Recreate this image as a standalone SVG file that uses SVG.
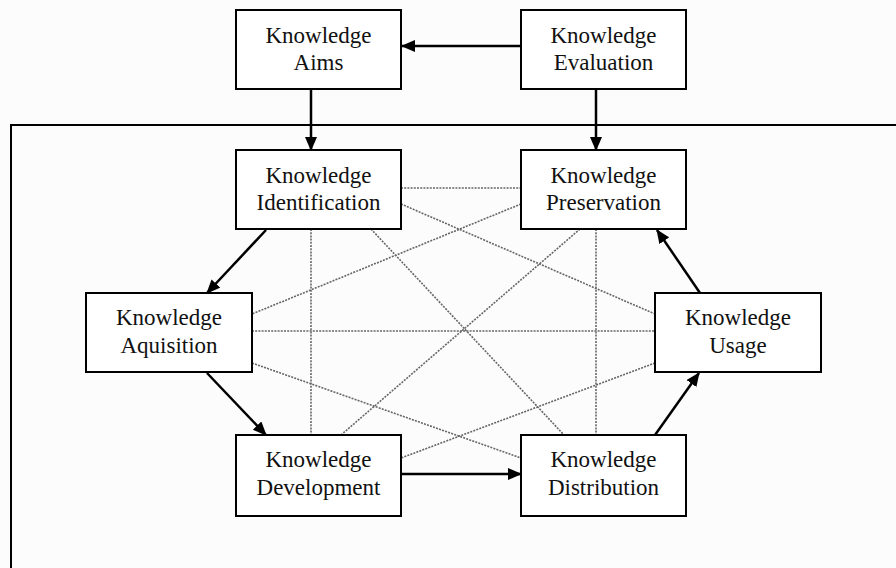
<svg xmlns="http://www.w3.org/2000/svg" width="896" height="568" viewBox="0 0 896 568">
<style>
.box{fill:#fff;stroke:#000;stroke-width:2}
.lbl{font-family:"Liberation Serif","Times New Roman",serif;font-size:23px;fill:#111;text-anchor:middle}
.arr{stroke:#000;stroke-width:2.5;fill:none;marker-end:url(#ah)}
.dot{stroke:#666;stroke-width:1.6;stroke-dasharray:2 1.2;fill:none}
.frame{fill:none;stroke:#000;stroke-width:2}
</style>
<defs>
<marker id="ah" markerUnits="userSpaceOnUse" markerWidth="14" markerHeight="12" refX="13" refY="6" orient="auto">
<path d="M0,0 L14,6 L0,12 z" fill="#000"/>
</marker>
</defs>
<rect width="896" height="568" fill="#fcfcfc"/>
<path class="frame" d="M897,125 H11 V570"/>
<g id="connectors">
<g id="dotted">
<line class="dot" x1="401" y1="188" x2="521" y2="188"/>
<line class="dot" x1="401" y1="204" x2="655" y2="314"/>
<line class="dot" x1="521" y1="204" x2="252" y2="314"/>
<line class="dot" x1="371" y1="229" x2="564" y2="435"/>
<line class="dot" x1="580" y1="229" x2="341" y2="435"/>
<line class="dot" x1="311" y1="229" x2="311" y2="435"/>
<line class="dot" x1="596" y1="229" x2="596" y2="435"/>
<line class="dot" x1="252" y1="331" x2="655" y2="331"/>
<line class="dot" x1="252" y1="363" x2="521" y2="458"/>
<line class="dot" x1="655" y1="363" x2="401" y2="458"/>
</g>
<line class="arr" x1="521" y1="46" x2="402" y2="46"/>
<line class="arr" x1="311" y1="89" x2="311" y2="150"/>
<line class="arr" x1="596" y1="89" x2="596" y2="150"/>
<line class="arr" x1="266" y1="230" x2="207" y2="293"/>
<line class="arr" x1="207" y1="373" x2="266" y2="435"/>
<line class="arr" x1="401" y1="474" x2="521" y2="474"/>
<line class="arr" x1="655" y1="435" x2="699" y2="373"/>
<line class="arr" x1="700" y1="293" x2="657" y2="230"/>
</g>
<g id="aims"><rect class="box" x="236" y="10" width="165" height="79"/><text class="lbl" x="318.5" y="43">Knowledge</text><text class="lbl" x="318.5" y="70">Aims</text></g>
<g id="evaluation"><rect class="box" x="521" y="10" width="165" height="79"/><text class="lbl" x="603.5" y="43">Knowledge</text><text class="lbl" x="603.5" y="70">Evaluation</text></g>
<g id="identification"><rect class="box" x="236" y="150" width="165" height="79"/><text class="lbl" x="318.5" y="183">Knowledge</text><text class="lbl" x="318.5" y="210">Identification</text></g>
<g id="preservation"><rect class="box" x="521" y="150" width="165" height="79"/><text class="lbl" x="603.5" y="183">Knowledge</text><text class="lbl" x="603.5" y="210">Preservation</text></g>
<g id="aquisition"><rect class="box" x="86" y="293" width="166" height="79"/><text class="lbl" x="169" y="325">Knowledge</text><text class="lbl" x="169" y="353">Aquisition</text></g>
<g id="usage"><rect class="box" x="655" y="293" width="166" height="79"/><text class="lbl" x="738" y="325">Knowledge</text><text class="lbl" x="738" y="353">Usage</text></g>
<g id="development"><rect class="box" x="236" y="435" width="165" height="81"/><text class="lbl" x="318.5" y="467">Knowledge</text><text class="lbl" x="318.5" y="495">Development</text></g>
<g id="distribution"><rect class="box" x="521" y="435" width="165" height="81"/><text class="lbl" x="603.5" y="467">Knowledge</text><text class="lbl" x="603.5" y="495">Distribution</text></g>
</svg>
